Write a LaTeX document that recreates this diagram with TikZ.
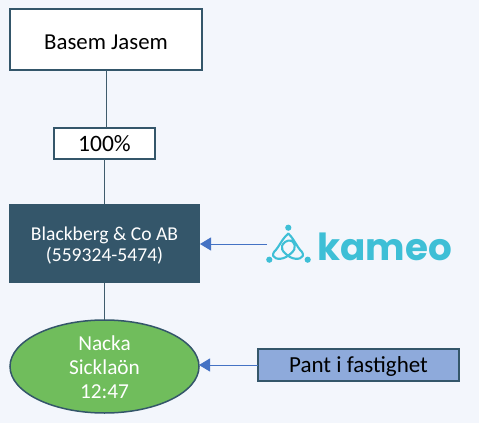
\documentclass[tikz,border=0pt]{standalone}
\usepackage{fontspec}
\setmainfont{Carlito}
\newfontfamily\logofont{Poppins}
\definecolor{bgc}{HTML}{F3F6FC}
\definecolor{navy}{HTML}{34566A}
\definecolor{grn}{HTML}{70BD5C}
\definecolor{pant}{HTML}{8EAADB}
\definecolor{arr}{HTML}{4472C4}
\definecolor{kam}{HTML}{3EBFD6}
\usetikzlibrary{shapes.geometric,arrows.meta}
\newcommand{\dropped}[2]{\raisebox{-#1pt}[\height][\depth]{#2}}
\tikzset{
  x=1pt,y=-1pt,
  whitebox/.style={draw=navy,line width=1.5pt,fill=white,text=black,inner sep=0pt,outer sep=0pt},
  link/.style={draw=navy!85!gray,line width=1pt},
  pointer/.style={draw=arr,line width=.9pt,-{Triangle[length=11pt,width=13pt,fill=arr]}},
  logoline/.style={draw=kam,line width=2.1pt}
}
\begin{document}
\begin{tikzpicture}
\useasboundingbox[fill=bgc] (0,0) rectangle (479,423);
\node[whitebox,minimum width=192pt,minimum height=61pt,font=\fontsize{22.8}{26}\selectfont] (basem) at (106,39.5) {\dropped{2.5}{Basem Jasem}};
\node[whitebox,minimum width=101pt,minimum height=31pt,font=\fontsize{23.5}{26}\selectfont] (pct) at (104.5,143.5) {100\%};
\node[fill=navy,text=white,minimum width=191pt,minimum height=79pt,inner sep=0pt,outer sep=0pt,align=center,font=\fontsize{19.6}{21.5}\selectfont] (bb) at (104.5,243.5) {\dropped{2}{Blackberg \& Co AB}\\\dropped{2}{(559324-5474)}};
\node[ellipse,draw=navy,line width=1.5pt,fill=grn,text=white,minimum width=189pt,minimum height=93pt,inner sep=0pt,outer sep=0pt,align=center,font=\fontsize{21.3}{24}\selectfont] (nacka) at (104.5,366.5) {\dropped{1}{Nacka}\\\dropped{1}{Sicklaön}\\\dropped{1}{12:47}};
\node[draw=navy,line width=1.5pt,fill=pant,text=black,minimum width=201pt,minimum height=32pt,inner sep=0pt,outer sep=0pt,font=\fontsize{23}{26}\selectfont] (pantbox) at (358.5,365) {\dropped{1}{Pant i fastighet}};
\node[anchor=base west,inner sep=0pt,text=kam,font=\logofont\bfseries\fontsize{37.3}{37}\selectfont] (kameo) at (317,260.5) {kameo};
\coordinate (logoedge) at (267,244);
\draw[link] (basem.south) -- (pct.north -| basem.south);
\draw[link] (pct.south) -- (bb.north);
\draw[link] (bb.south) -- (nacka.north);
\draw[pointer] (logoedge) -- (bb.east |- logoedge);
\draw[pointer] (pantbox.west) -- (nacka.east |- pantbox.west);
% kameo emblem
\fill[kam] (288.3,227.7) circle (3.1) (269.3,259.7) circle (3.1) (307.7,259.7) circle (3.1);
\draw[logoline,line cap=round] (288.3,233.5) .. controls (281,240) and (280,246) .. (274,252) .. controls (270,258) and (279,261) .. (286,257) .. controls (294,252) and (298,247) .. (292,241);
\draw[logoline,line cap=round] (288.3,233.5) .. controls (295,240) and (296,246) .. (302,252) .. controls (306,258) and (297,261) .. (290,257) .. controls (282,252) and (279,247) .. (285,242) .. controls (289,239) and (294,241) .. (296,244);
\end{tikzpicture}
\end{document}
